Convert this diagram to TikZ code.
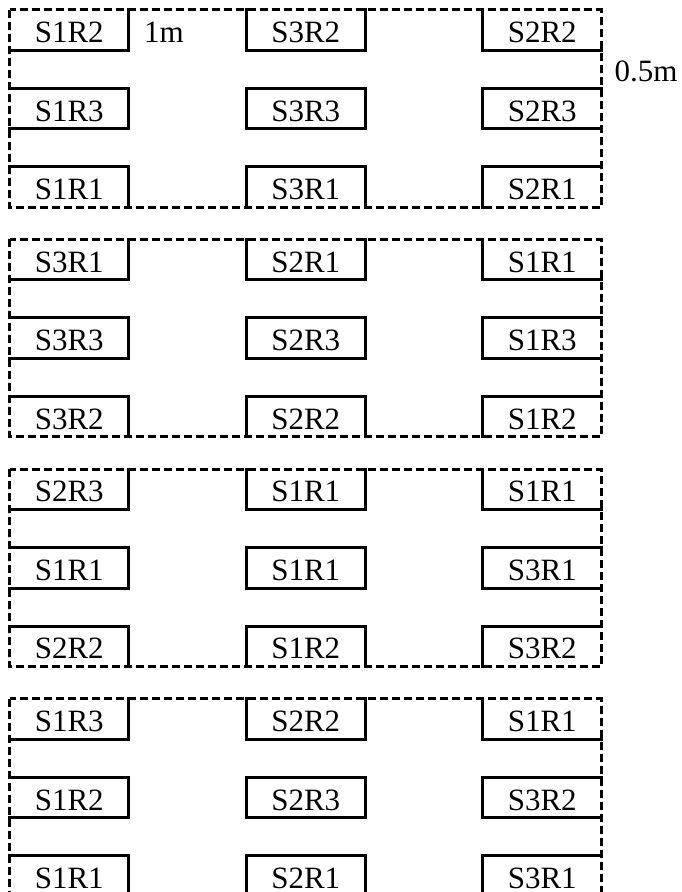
\documentclass[tikz,border=0pt]{standalone}
\usepackage{fontspec}
\setmainfont{Liberation Serif}

\begin{document}
\begin{tikzpicture}[x=1pt, y=-1pt, every node/.style={font=\fontsize{31}{37}\selectfont},
	plotbox/.style={minimum width=118.5pt, minimum height=40pt, inner sep=0pt, text height=25pt, text depth=0pt},
	boxedge/.style={line width=3pt, line cap=rect},
	blockedge/.style={line width=2.8pt, dash pattern=on 8pt off 4pt}]
	\useasboundingbox (0,0) rectangle (682,892);
	\clip (0,0) rectangle (682,892);
	\foreach \names [count=\b from 0] in {{S1R2,S3R2,S2R2,S1R3,S3R3,S2R3,S1R1,S3R1,S2R1},
		{S3R1,S2R1,S1R1,S3R3,S2R3,S1R3,S3R2,S2R2,S1R2},
		{S2R3,S1R1,S1R1,S1R1,S1R1,S3R1,S2R2,S1R2,S3R2},
		{S1R3,S2R2,S1R1,S1R2,S2R3,S3R2,S1R1,S2R1,S3R1}} {
		\foreach \lab [count=\k from 0] in \names {
			\pgfmathtruncatemacro\r{div(\k,3)}
			\pgfmathtruncatemacro\c{mod(\k,3)}
			\node[plotbox] (p\b\r\c) at ({69.25+236.5*\c}, {30+229.67*\b+78.5*\r}) {\lab};
			\ifnum\c>0 \draw[boxedge] (p\b\r\c.north west) -- (p\b\r\c.south west); \fi
			\ifnum\c<2 \draw[boxedge] (p\b\r\c.north east) -- (p\b\r\c.south east); \fi
			\ifnum\r>0 \draw[boxedge] (p\b\r\c.north west) -- (p\b\r\c.north east); \fi
			\ifnum\r<2 \draw[boxedge] (p\b\r\c.south west) -- (p\b\r\c.south east); \fi
		}
		\draw[blockedge] (p\b00.north west) rectangle (p\b22.south east);
	}
	\node (rowgap) at (164,32.5) {1m};
	\node (colgap) at (646,71) {0.5m};
\end{tikzpicture}
\end{document}
